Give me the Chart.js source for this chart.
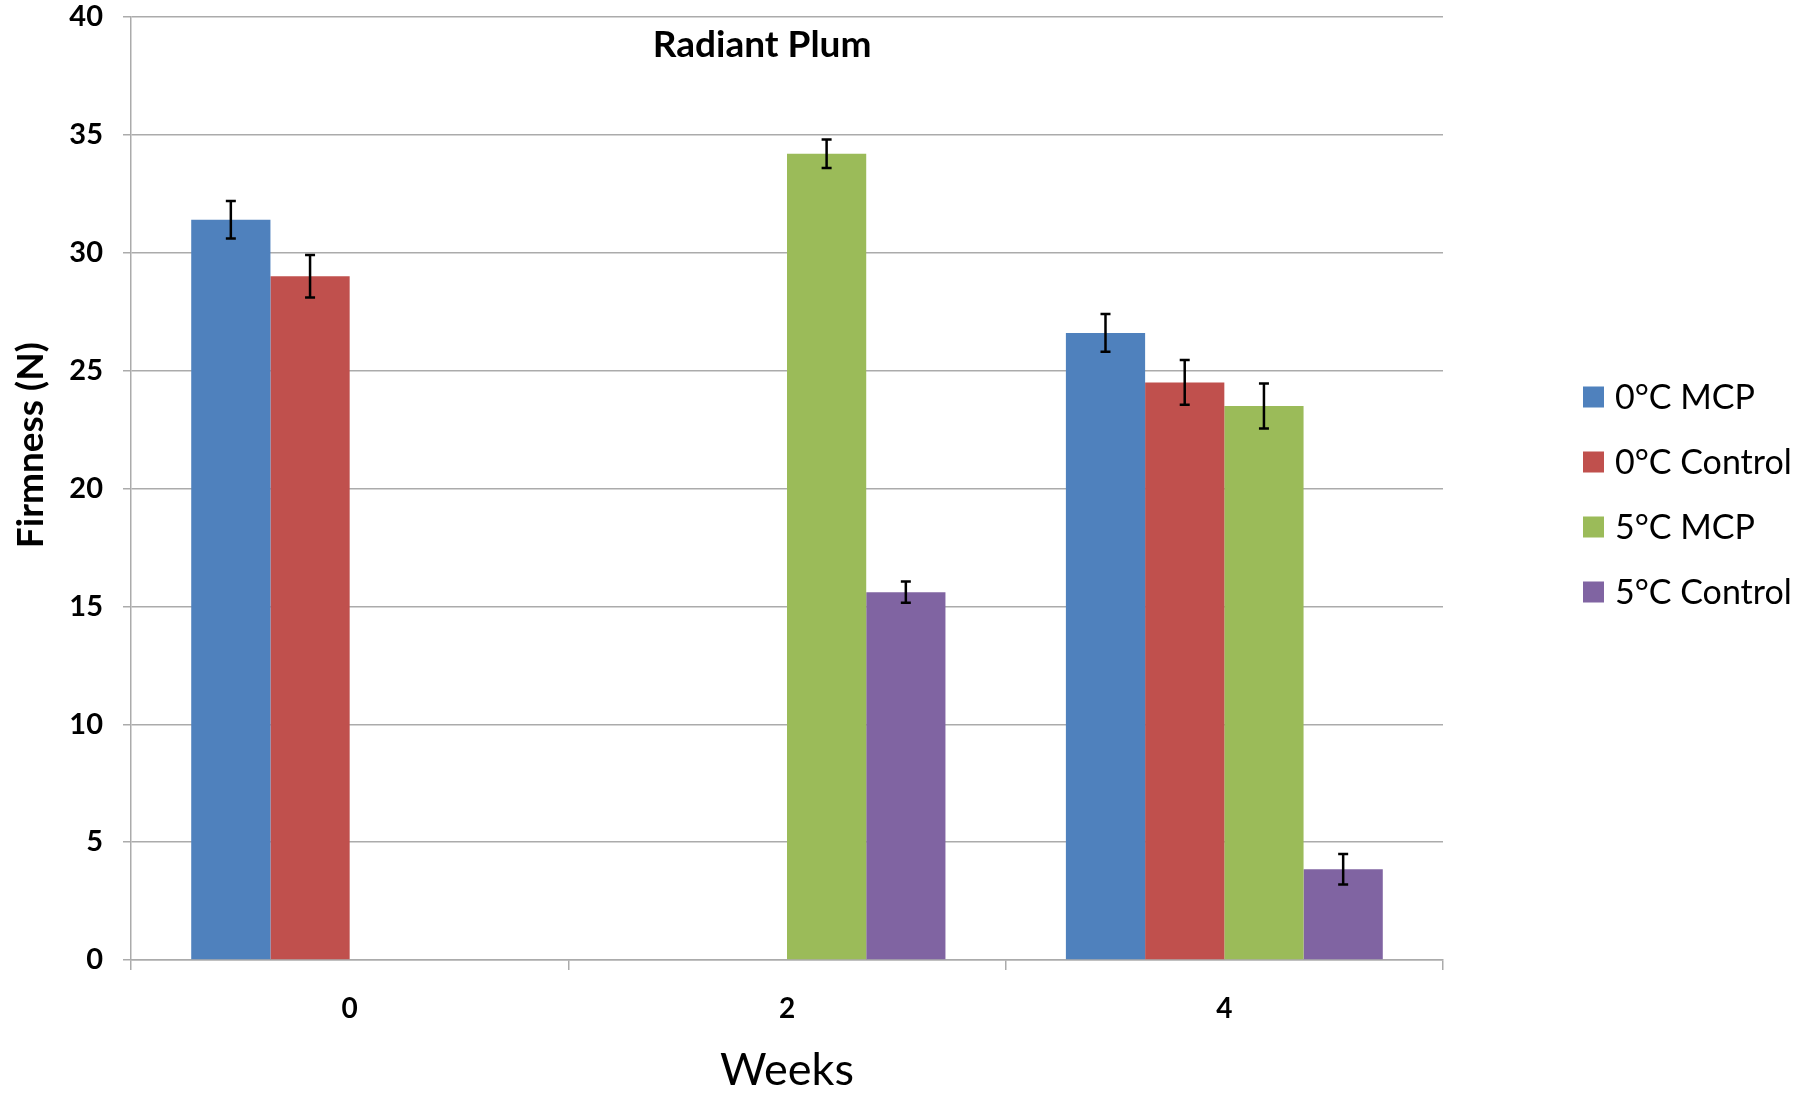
<!DOCTYPE html>
<html lang="en">
<head>
    <meta charset="UTF-8">
    <title>Radiant Plum</title>
    <script src="https://cdn.jsdelivr.net/npm/chart.js@4.4.0/dist/chart.umd.min.js"></script>
    <style>
        html, body { margin: 0; padding: 0; background: #ffffff; }
        .chart-container { position: relative; width: 1802px; height: 1093px; }
    </style>
</head>
<body>
    <div class="chart-container">
        <canvas id="firmnessChart"></canvas>
    </div>
    <script>
        // Datos
        const weeks = ['0', '2', '4'];
        const seriesLabels = ['0°C MCP', '0°C Control', '5°C MCP', '5°C Control'];
        const seriesColors = ['#4F81BD', '#C0504D', '#9BBB59', '#8064A2'];

        const mcp0 = [31.4, null, 26.6];
        const control0 = [29.0, null, 24.5];
        const mcp5 = [null, 34.2, 23.5];
        const control5 = [null, 15.6, 3.85];

        const mcp0Err = [0.8, null, 0.8];
        const control0Err = [0.9, null, 0.95];
        const mcp5Err = [null, 0.6, 0.95];
        const control5Err = [null, 0.45, 0.65];

        const yMin = 0;
        const yMax = 40;
        const yStep = 5;

        const chartTitle = 'Radiant Plum';
        const yTitle = 'Firmness (N)';
        const xTitle = 'Weeks';

        const FONT = 'Lato, "Open Sans", sans-serif';
        const GRID = '#ababab';

        const seriesValues = [mcp0, control0, mcp5, control5];
        const seriesErrors = [mcp0Err, control0Err, mcp5Err, control5Err];

        // barras de error
        const errorBars = {
            id: 'errorBars',
            afterDatasetsDraw(chart) {
                const ctx = chart.ctx;
                const y = chart.scales.y;
                ctx.save();
                ctx.strokeStyle = '#000000';
                ctx.lineWidth = 2.5;
                chart.data.datasets.forEach((ds, i) => {
                    const meta = chart.getDatasetMeta(i);
                    meta.data.forEach((bar, j) => {
                        const v = ds.data[j];
                        const e = ds.errors[j];
                        if (v === null || e === null) return;
                        const top = y.getPixelForValue(v + e);
                        const bottom = y.getPixelForValue(v - e);
                        ctx.beginPath();
                        ctx.moveTo(bar.x, top);
                        ctx.lineTo(bar.x, bottom);
                        ctx.moveTo(bar.x - 5, top);
                        ctx.lineTo(bar.x + 5, top);
                        ctx.moveTo(bar.x - 5, bottom);
                        ctx.lineTo(bar.x + 5, bottom);
                        ctx.stroke();
                    });
                });
                ctx.restore();
            }
        };

        // titulo, titulo del eje y y leyenda
        const extras = {
            id: 'extras',
            afterDraw(chart) {
                const ctx = chart.ctx;
                const a = chart.chartArea;
                ctx.save();
                ctx.fillStyle = '#000000';

                ctx.font = `bold 37px ${FONT}`;
                ctx.textAlign = 'center';
                ctx.textBaseline = 'middle';
                ctx.fillText(chartTitle, a.left + (a.right - a.left) * 0.481, a.top + 28);

                ctx.save();
                ctx.translate(a.left - 100, a.top + (a.bottom - a.top) * 0.454);
                ctx.rotate(-Math.PI / 2);
                ctx.font = `bold 37px ${FONT}`;
                ctx.fillText(yTitle, 0, 0);
                ctx.restore();

                ctx.font = `34px ${FONT}`;
                ctx.textAlign = 'left';
                chart.data.datasets.forEach((ds, i) => {
                    const cy = a.top + 380 + i * 65;
                    const bx = a.right + 140;
                    ctx.fillStyle = ds.backgroundColor;
                    ctx.fillRect(bx, cy - 10.5, 21, 21);
                    ctx.fillStyle = '#000000';
                    ctx.fillText(ds.label, bx + 32, cy + 1);
                });
                ctx.restore();
            }
        };

        const ctx = document.getElementById('firmnessChart').getContext('2d');
        const firmnessChart = new Chart(ctx, {
            type: 'bar',
            data: {
                labels: weeks,
                datasets: seriesLabels.map((label, i) => ({
                    label: label,
                    data: seriesValues[i],
                    errors: seriesErrors[i],
                    backgroundColor: seriesColors[i],
                    borderWidth: 0,
                    categoryPercentage: 0.7246,
                    barPercentage: 1.0
                }))
            },
            options: {
                responsive: true,
                maintainAspectRatio: false,
                animation: false,
                layout: {
                    padding: { top: 0, right: 359, bottom: 0, left: 0 }
                },
                plugins: {
                    legend: { display: false },
                    title: { display: false },
                    tooltip: { enabled: false }
                },
                scales: {
                    x: {
                        grid: {
                            display: true,
                            drawOnChartArea: false,
                            drawTicks: true,
                            tickLength: 10,
                            color: GRID,
                            lineWidth: 1.5
                        },
                        border: { color: GRID, width: 1.5 },
                        ticks: {
                            color: '#000000',
                            padding: 22,
                            font: { family: FONT, size: 28, weight: 'bold' }
                        },
                        title: {
                            display: true,
                            text: xTitle,
                            color: '#000000',
                            padding: 0,
                            font: { family: FONT, size: 45, lineHeight: 1 }
                        },
                        afterFit(scale) { scale.height = 133; }
                    },
                    y: {
                        min: yMin,
                        max: yMax,
                        grid: {
                            color: GRID,
                            lineWidth: 1.5,
                            tickLength: 8
                        },
                        border: { color: GRID, width: 1.5 },
                        ticks: {
                            stepSize: yStep,
                            color: '#000000',
                            padding: 20,
                            font: { family: FONT, size: 29, weight: 'bold' }
                        },
                        afterFit(scale) {
                            scale.width = 131;
                            scale.paddingTop = 17;
                            scale.paddingBottom = 0;
                        }
                    }
                }
            },
            plugins: [errorBars, extras]
        });
    </script>
</body>
</html>
